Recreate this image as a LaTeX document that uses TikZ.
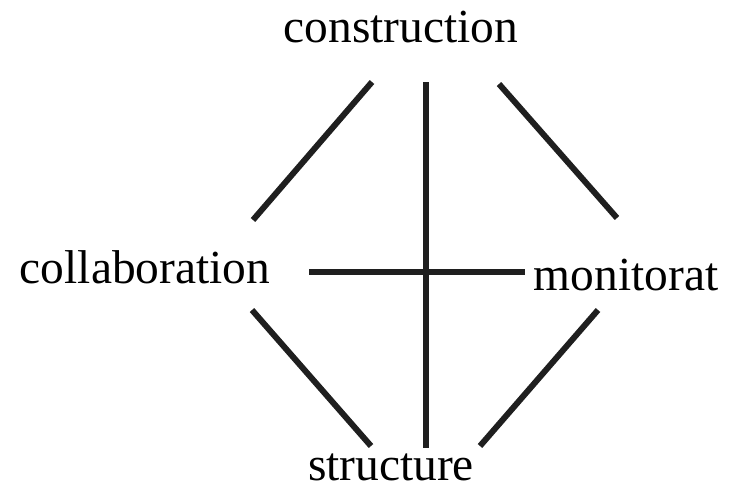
\documentclass[tikz,border=0pt]{standalone}
\usepackage{fontspec}
\setmainfont{Liberation Serif}
\usetikzlibrary{calc}
\tikzset{
  word/.style={font=\fontsize{27}{32}\selectfont,inner sep=0pt,anchor=base},
  link/.style={line width=3.4pt,draw=black!88}
}

\begin{document}
\begin{tikzpicture}[x=0.02cm,y=-0.02cm]
\useasboundingbox (0,0) rectangle (731,491);
% the four words
\node[word] (constr) at (401,42) {construction};
\node[word] (collab) at (145,283) {collaboration};
\node[word] (monit) at (626,290) {monitorat};
\node[word] (struct) at (391,480) {structure};
% line ends
\coordinate (cA) at ($(constr.base)+(-29,40)$);
\coordinate (cB) at ($(constr.base)+(25,40)$);
\coordinate (cC) at ($(constr.base)+(98,42)$);
\coordinate (lA) at ($(collab.base)+(108,-63)$);
\coordinate (lB) at ($(collab.base)+(164,-11)$);
\coordinate (lC) at ($(collab.base)+(107,27)$);
\coordinate (mA) at ($(monit.base)+(-9,-72)$);
\coordinate (mB) at ($(monit.base)+(-101,-18)$);
\coordinate (mC) at ($(monit.base)+(-28,20)$);
\coordinate (sA) at ($(struct.base)+(-20,-34)$);
\coordinate (sB) at ($(struct.base)+(35,-32)$);
\coordinate (sC) at ($(struct.base)+(89,-34)$);
% connectors
\draw[link] (cA) -- (lA);
\draw[link] (cC) -- (mA);
\draw[link] (cB) -- (sB);
\draw[link] (lB) -- (mB);
\draw[link] (lC) -- (sA);
\draw[link] (mC) -- (sC);
\end{tikzpicture}
\end{document}
